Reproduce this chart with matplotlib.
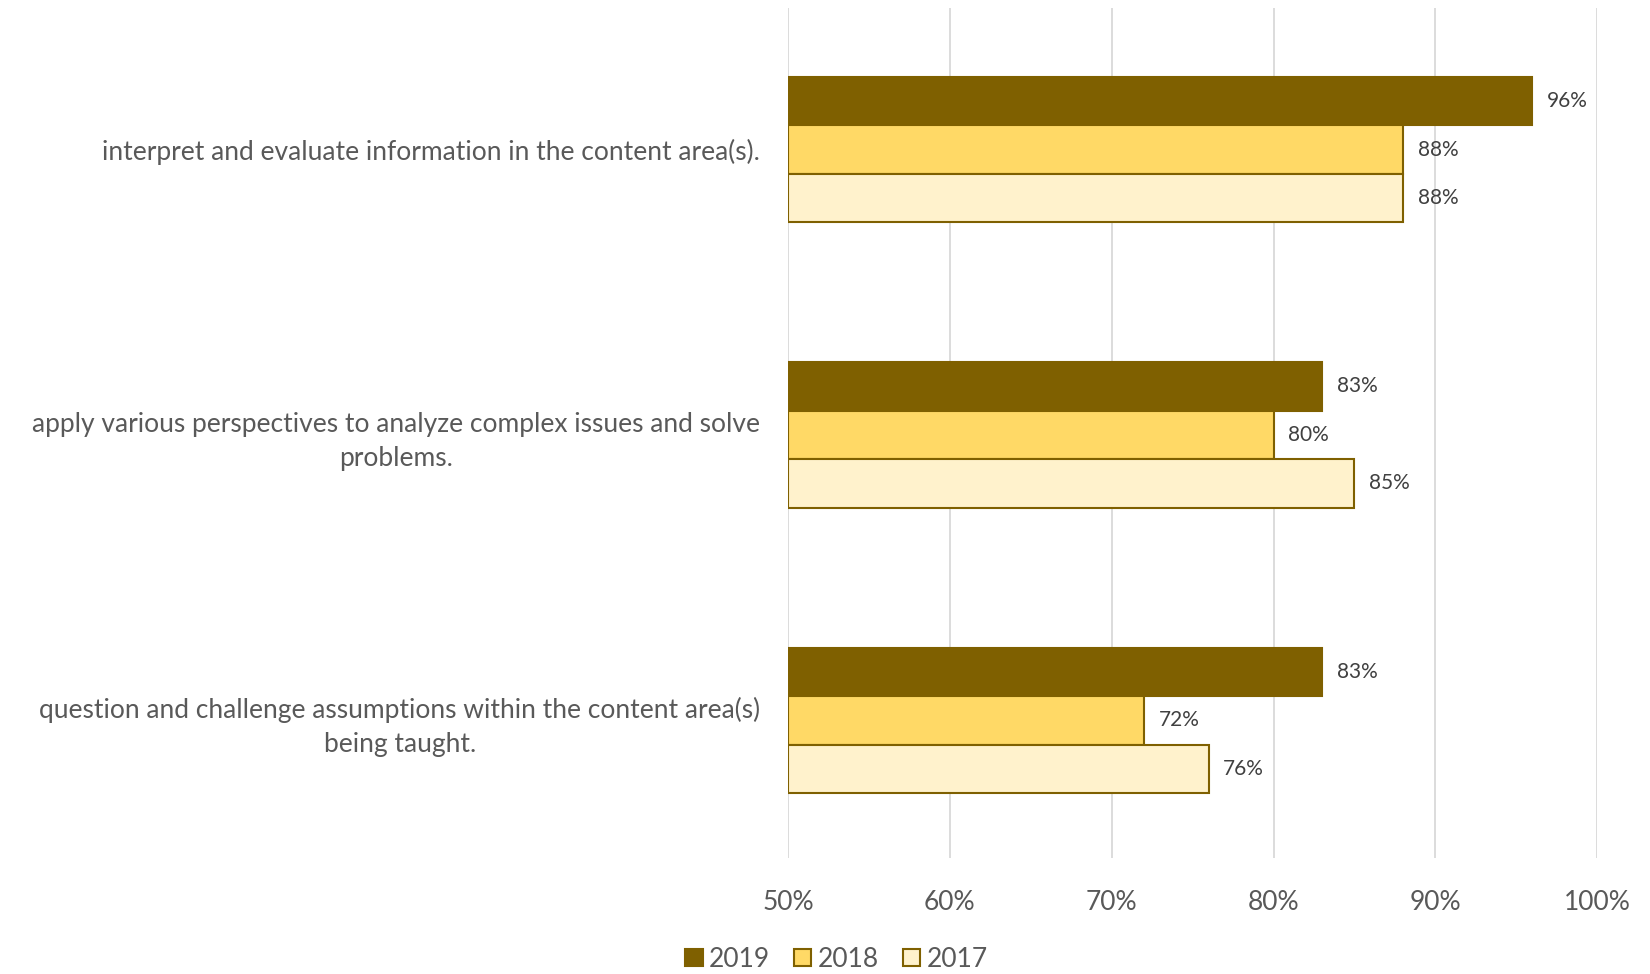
import numpy as np
import matplotlib.pyplot as plt

plt.rcParams['font.family'] = ['Lato', 'DejaVu Sans']

categories = ['interpret and evaluate information in the content area(s).',
              'apply various perspectives to analyze complex issues and solve\nproblems.',
              'question and challenge assumptions within the content area(s)\nbeing taught.']
years = ['2019', '2018', '2017']
vals2019 = [96, 83, 83]
vals2018 = [88, 80, 72]
vals2017 = [88, 85, 76]
xticks = [50, 60, 70, 80, 90, 100]

colors = ['#7F6000', '#FFD966', '#FFF2CC']
edgeColor = '#7F6000'
textColor = '#595959'

fig = plt.figure(figsize=(16.5, 9.74), dpi=100)
ax = fig.add_axes([0.4776, 0.119, 0.968 - 0.4776, 0.873])

y = np.arange(len(categories))
barH = 0.17
series = [vals2019, vals2018, vals2017]
handles = []
for i, (vals, col) in enumerate(zip(series, colors)):
    pos = y + (i - 1) * barH
    bars = ax.barh(pos, np.array(vals) - 50, left=50, height=barH, color=col,
                   edgecolor=edgeColor, linewidth=1.5, label=years[i], zorder=3)
    handles.append(bars)
    for p, v in zip(pos, vals):
        ax.text(v + 0.9, p, '%d%%' % v, va='center', ha='left',
                fontsize=15, color='#404040', zorder=4)

ax.set_xlim(50, 100)
ax.set_ylim(2.483, -0.497)
ax.set_xticks(xticks)
ax.set_xticklabels(['%d%%' % t for t in xticks])
ax.set_yticks(y)
ax.set_yticklabels(categories, multialignment='center', linespacing=1.45)
ax.tick_params(axis='x', length=0, pad=23, labelsize=19, labelcolor=textColor)
ax.tick_params(axis='y', length=0, pad=20, labelsize=19, labelcolor=textColor)
ax.grid(axis='x', color='#D9D9D9', linewidth=1.3, zorder=0)
for s in ax.spines.values():
    s.set_visible(False)

fig.legend(handles=handles, labels=years, loc='center', bbox_to_anchor=(0.507, 0.015),
           ncol=3, frameon=False, fontsize=19, handlelength=0.65, handleheight=0.65,
           handletextpad=0.25, columnspacing=0.9, labelcolor=textColor)

fig.savefig('out.png', dpi=100)
